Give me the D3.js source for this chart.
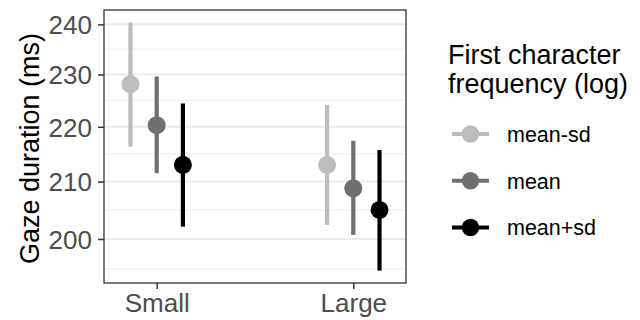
<!DOCTYPE html>
<html>
<head>
<meta charset="utf-8">
<script src="https://cdn.jsdelivr.net/npm/d3@7"></script>
<style>
  html, body { margin: 0; padding: 0; background: #fff; }
  svg { display: block; font-family: "Liberation Sans", Arial, sans-serif; }
</style>
</head>
<body>
<svg id="chart" width="640" height="320"></svg>
<script>
// Word size categories on the x axis
const sizes = ["Small", "Large"];
// First character frequency levels (log), one series each
const levels = ["mean-sd", "mean", "mean+sd"];
const levelColors = ["#bdbdbd", "#707070", "#000000"];

// Estimated gaze duration (ms) per level, ordered as in `sizes`
const estimate = {
  "mean-sd": [228.1, 213.0],
  "mean":    [220.3, 208.8],
  "mean+sd": [213.0, 205.0]
};
const lower = {
  "mean-sd": [216.3, 202.4],
  "mean":    [211.5, 200.7],
  "mean+sd": [202.1, 194.7]
};
const upper = {
  "mean-sd": [240.4, 224.1],
  "mean":    [229.6, 217.4],
  "mean+sd": [224.4, 215.7]
};

const majorTicks = [200, 210, 220, 230, 240];
const minorTicks = [195, 205, 215, 225, 235];

const legendTitle = ["First character", "frequency (log)"];
const yTitle = "Gaze duration (ms)";

// Flatten into rows for drawing
const rows = [];
levels.forEach((lv, li) => {
  sizes.forEach((sz, si) => {
    rows.push({ level: lv, li, size: sz, est: estimate[lv][si], lo: lower[lv][si], hi: upper[lv][si] });
  });
});

const panel = { left: 104, right: 406, top: 10, bottom: 283 };
const svg = d3.select("#chart");

// Log-scaled y with 5% expansion in log space
const dmin = d3.min(rows, d => d.lo), dmax = d3.max(rows, d => d.hi);
const lspan = Math.log(dmax) - Math.log(dmin);
const y = d3.scaleLog()
  .domain([dmin * Math.exp(-0.05 * lspan), dmax * Math.exp(0.05 * lspan)])
  .range([panel.bottom, panel.top]);

const x = d3.scalePoint().domain(sizes).range([panel.left, panel.right]).padding(0.268);
const dodge = x.step() * 0.4 / 3;
const xOf = d => x(d.size) + (d.li - 1) * dodge;

// Panel background and grid
svg.append("rect")
  .attr("x", panel.left).attr("y", panel.top)
  .attr("width", panel.right - panel.left).attr("height", panel.bottom - panel.top)
  .attr("fill", "#fff");

svg.append("g").selectAll("line").data(minorTicks.filter(t => y(t) > panel.top && y(t) < panel.bottom))
  .join("line")
  .attr("x1", panel.left).attr("x2", panel.right)
  .attr("y1", d => y(d)).attr("y2", d => y(d))
  .attr("stroke", "#f0f0f0").attr("stroke-width", 1.2);

svg.append("g").selectAll("line").data(majorTicks)
  .join("line")
  .attr("x1", panel.left).attr("x2", panel.right)
  .attr("y1", d => y(d)).attr("y2", d => y(d))
  .attr("stroke", "#ebebeb").attr("stroke-width", 2);

// Error bars and points
const colorOf = d3.scaleOrdinal().domain(levels).range(levelColors);
const marks = svg.append("g");
marks.selectAll("line").data(rows).join("line")
  .attr("x1", xOf).attr("x2", xOf)
  .attr("y1", d => y(d.lo)).attr("y2", d => y(d.hi))
  .attr("stroke", d => colorOf(d.level)).attr("stroke-width", 4.2);
marks.selectAll("circle").data(rows).join("circle")
  .attr("cx", xOf).attr("cy", d => y(d.est)).attr("r", 9)
  .attr("fill", d => colorOf(d.level));

// Panel border
svg.append("rect")
  .attr("x", panel.left).attr("y", panel.top)
  .attr("width", panel.right - panel.left).attr("height", panel.bottom - panel.top)
  .attr("fill", "none").attr("stroke", "#333333").attr("stroke-width", 1.3);

// Axes
const yAxis = d3.axisLeft(y).tickValues(majorTicks).tickFormat(d3.format("d")).tickSize(6).tickPadding(6);
const gy = svg.append("g").attr("transform", `translate(${panel.left},0)`).call(yAxis);
gy.select(".domain").remove();
gy.selectAll(".tick line").attr("stroke", "#333333").attr("stroke-width", 1.5);
gy.selectAll(".tick text").attr("fill", "#4d4d4d").style("font-size", "26px")
  .style("font-family", "Liberation Sans, Arial, sans-serif").attr("dy", "0.36em");

const xAxis = d3.axisBottom(x).tickSize(6).tickPadding(4);
const gx = svg.append("g").attr("transform", `translate(0,${panel.bottom})`).call(xAxis);
gx.select(".domain").remove();
gx.selectAll(".tick line").attr("stroke", "#333333").attr("stroke-width", 1.5);
gx.selectAll(".tick text").attr("fill", "#4d4d4d").style("font-size", "26px")
  .style("font-family", "Liberation Sans, Arial, sans-serif").attr("dy", "0.72em");

// Y axis title
svg.append("text")
  .attr("transform", `translate(39,${(panel.top + panel.bottom) / 2 + 2}) rotate(-90)`)
  .attr("text-anchor", "middle")
  .style("font-size", "27px").attr("fill", "#000")
  .text(yTitle);

// Legend
const legend = svg.append("g").attr("transform", "translate(448,0)");
legend.selectAll("text.title").data(legendTitle).join("text")
  .attr("class", "title")
  .attr("x", 0).attr("y", (d, i) => 64 + i * 29)
  .style("font-size", "27px").attr("fill", "#000")
  .text(d => d);

const keyY = d3.scalePoint().domain(levels).range([134, 227.5]);
const keys = legend.selectAll("g.key").data(levels).join("g")
  .attr("class", "key")
  .attr("transform", d => `translate(0,${keyY(d)})`);
keys.append("line")
  .attr("x1", 4).attr("x2", 41).attr("y1", 0).attr("y2", 0)
  .attr("stroke", d => colorOf(d)).attr("stroke-width", 4.2);
keys.append("circle")
  .attr("cx", 22.5).attr("cy", 0).attr("r", 8.7)
  .attr("fill", d => colorOf(d));
keys.append("text")
  .attr("x", 59).attr("y", 0).attr("dy", "0.36em")
  .style("font-size", "21.5px").attr("fill", "#000")
  .text(d => d);
</script>
</body>
</html>
